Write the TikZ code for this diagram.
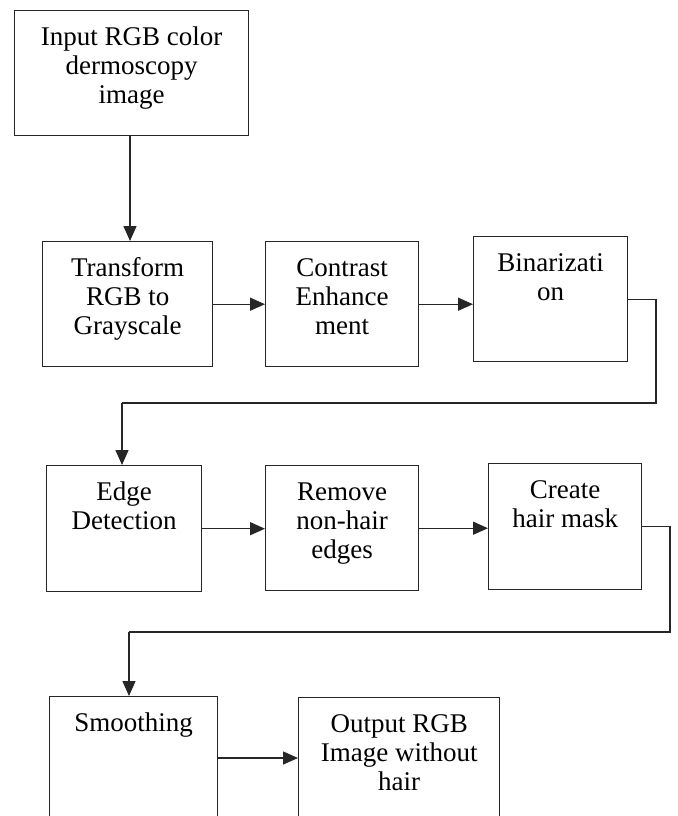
\documentclass[tikz,border=0pt]{standalone}
\usepackage{fontspec}
\setmainfont{Liberation Serif}
\usetikzlibrary{arrows.meta}

% top-aligned, centred text inside a fixed-size box
\newcommand{\steptext}[3]{\parbox[c][#2][t]{#1}{\centering\rule{0pt}{35pt}#3}}

\tikzset{
  stepbox/.style={draw=black!85, line width=1.4pt, inner sep=0pt, anchor=north west,
                  font=\fontsize{27pt}{29pt}\selectfont},
  flow/.style={draw=black!85, line width=1.4pt, -{Triangle[length=15pt,width=13pt]}},
  plain/.style={draw=black!85, line width=1.4pt}
}

\begin{document}
\begin{tikzpicture}[x=1pt, y=-1pt]
  \useasboundingbox (0,0) rectangle (677,816);
  \clip (0,0) rectangle (677,816);
  \fill[white] (0,0) rectangle (677,816);

  % row 1
  \node[stepbox] (b1) at (14,10)  {\steptext{234pt}{125pt}{Input RGB color\\dermoscopy\\image}};
  % row 2
  \node[stepbox] (b2) at (42,241)  {\steptext{170pt}{125pt}{Transform\\RGB to\\Grayscale}};
  \node[stepbox] (b3) at (265,241) {\steptext{153pt}{125pt}{Contrast\\Enhance\\ment}};
  \node[stepbox] (b4) at (473,236) {\steptext{154pt}{125pt}{Binarizati\\on}};
  % row 3
  \node[stepbox] (b5) at (46,465)  {\steptext{155pt}{126pt}{Edge\\Detection}};
  \node[stepbox] (b6) at (265,465) {\steptext{153pt}{125pt}{Remove\\non-hair\\edges}};
  \node[stepbox] (b7) at (488,463) {\steptext{153pt}{126pt}{Create\\hair mask}};
  % row 4 (runs past the lower edge)
  \node[stepbox] (b8) at (49,696)  {\steptext{168pt}{150pt}{Smoothing}};
  \node[stepbox] (b9) at (298,697) {\steptext{201pt}{150pt}{Output RGB\\Image without\\hair}};

  % turning points of the two return lines
  \coordinate (r1) at (656,403);
  \coordinate (r2) at (670,632);
  \coordinate (d1) at (122,403);
  \coordinate (d2) at (129,632);

  % connectors
  \draw[flow] (b1.south -| 130,0) -- (130,241);
  \draw[flow] (b2.east) -- (b3.west);
  \draw[flow] (b3.east) -- (b3.east -| b4.west);
  \draw[plain] (b4.east) -| (r1) -- (d1);
  \draw[flow] (d1) -- (d1 |- b5.north);
  \draw[flow] (b5.east) -- (b5.east -| b6.west);
  \draw[flow] (b6.east) -- (b6.east -| b7.west);
  \draw[plain] (b7.east) -| (r2) -- (d2);
  \draw[flow] (d2) -- (d2 |- b8.north);
  \draw[flow] (b8.east |- 0,758) -- (b9.west |- 0,758);
\end{tikzpicture}
\end{document}
